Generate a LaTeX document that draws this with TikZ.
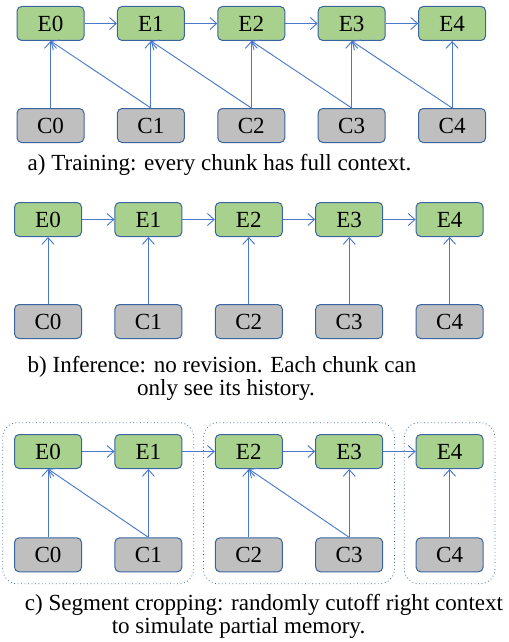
\documentclass[tikz,border=0pt]{standalone}
\usepackage{fontspec}
\setmainfont{Liberation Serif}
\usetikzlibrary{arrows.meta, fit, positioning}
\definecolor{egreen}{HTML}{A9D18E}
\definecolor{cgray}{HTML}{BFBFBF}
\definecolor{boxline}{HTML}{3A65A0}
\definecolor{linkblue}{HTML}{4A78CC}
\tikzstyle{every picture} = [x=0.75pt, y=-0.75pt, node distance=75.3pt, font=\fontsize{17.3}{20}\selectfont]
\tikzstyle{chunk} = [draw=boxline, line width=0.75pt, rounded corners=3.5pt, minimum width=50.25pt, minimum height=25.5pt, inner sep=0pt]
\tikzstyle{enc} = [chunk, fill=egreen]
\tikzstyle{ctx} = [chunk, fill=cgray]
\tikzstyle{link} = [-{Straight Barb[length=5pt, width=9pt]}, draw=linkblue, line width=0.7pt]
\tikzstyle{cropbox} = [draw=boxline, dotted, line width=0.6pt, rounded corners=11pt, inner sep=8.5pt]

\begin{document}
\begin{tikzpicture}
            \useasboundingbox (0,0) rectangle (508,642);
            % a) training
            \node (a E0) [enc] at (50.5,23.5) {E0};
            \node (a E1) [enc, right of=a E0] {E1};
            \node (a E2) [enc, right of=a E1] {E2};
            \node (a E3) [enc, right of=a E2] {E3};
            \node (a E4) [enc, right of=a E3] {E4};
            \node (a C0) [ctx, below of=a E0, node distance=76.5pt] {C0};
            \node (a C1) [ctx, right of=a C0] {C1};
            \node (a C2) [ctx, right of=a C1] {C2};
            \node (a C3) [ctx, right of=a C2] {C3};
            \node (a C4) [ctx, right of=a C3] {C4};
            \node (a caption) [anchor=base] at (219.5,170) {a) Training: every chunk has full context.};

            \path (a E0) edge[link] (a E1)
                  (a E1) edge[link] (a E2)
                  (a E2) edge[link] (a E3)
                  (a E3) edge[link] (a E4)
                  (a C0) edge[link] (a E0)
                  (a C1) edge[link] (a E1)
                  (a C2) edge[link] (a E2)
                  (a C3) edge[link] (a E3)
                  (a C4) edge[link] (a E4)
                  (a C1.north) edge[link] (a E0.south)
                  (a C2.north) edge[link] (a E1.south)
                  (a C3.north) edge[link] (a E2.south)
                  (a C4.north) edge[link] (a E3.south);

            % b) inference
            \node (b E0) [enc] at (48,219.5) {E0};
            \node (b E1) [enc, right of=b E0] {E1};
            \node (b E2) [enc, right of=b E1] {E2};
            \node (b E3) [enc, right of=b E2] {E3};
            \node (b E4) [enc, right of=b E3] {E4};
            \node (b C0) [ctx, below of=b E0, node distance=76.5pt] {C0};
            \node (b C1) [ctx, right of=b C0] {C1};
            \node (b C2) [ctx, right of=b C1] {C2};
            \node (b C3) [ctx, right of=b C2] {C3};
            \node (b C4) [ctx, right of=b C3] {C4};
            \node (b caption 1) [anchor=base] at (222,372) {b) Inference: no revision. Each chunk can};
            \node (b caption 2) [anchor=base] at (226,395) {only see its history.};

            \path (b E0) edge[link] (b E1)
                  (b E1) edge[link] (b E2)
                  (b E2) edge[link] (b E3)
                  (b E3) edge[link] (b E4)
                  (b C0) edge[link] (b E0)
                  (b C1) edge[link] (b E1)
                  (b C2) edge[link] (b E2)
                  (b C3) edge[link] (b E3)
                  (b C4) edge[link] (b E4);

            % c) segment cropping
            \node (c E0) [enc] at (48,451.5) {E0};
            \node (c E1) [enc, right of=c E0] {E1};
            \node (c E2) [enc, right of=c E1] {E2};
            \node (c E3) [enc, right of=c E2] {E3};
            \node (c E4) [enc, right of=c E3] {E4};
            \node (c C0) [ctx, below of=c E0, node distance=77.5pt] {C0};
            \node (c C1) [ctx, right of=c C0] {C1};
            \node (c C2) [ctx, right of=c C1] {C2};
            \node (c C3) [ctx, right of=c C2] {C3};
            \node (c C4) [ctx, right of=c C3] {C4};
            \node (c crop 1) [cropbox, fit=(c E0) (c C1)] {};
            \node (c crop 2) [cropbox, fit=(c E2) (c C3)] {};
            \node (c crop 3) [cropbox, fit=(c E4) (c C4)] {};
            \node (c caption 1) [anchor=base] at (264,610) {c) Segment cropping: randomly cutoff right context};
            \node (c caption 2) [anchor=base] at (238.5,633) {to simulate partial memory.};

            \path (c E0) edge[link] (c E1)
                  (c E1) edge[link] (c E2)
                  (c E2) edge[link] (c E3)
                  (c E3) edge[link] (c E4)
                  (c C0) edge[link] (c E0)
                  (c C1) edge[link] (c E1)
                  (c C2) edge[link] (c E2)
                  (c C3) edge[link] (c E3)
                  (c C4) edge[link] (c E4)
                  (c C1.north) edge[link] (c E0.south)
                  (c C3.north) edge[link] (c E2.south);
        \end{tikzpicture}
\end{document}
